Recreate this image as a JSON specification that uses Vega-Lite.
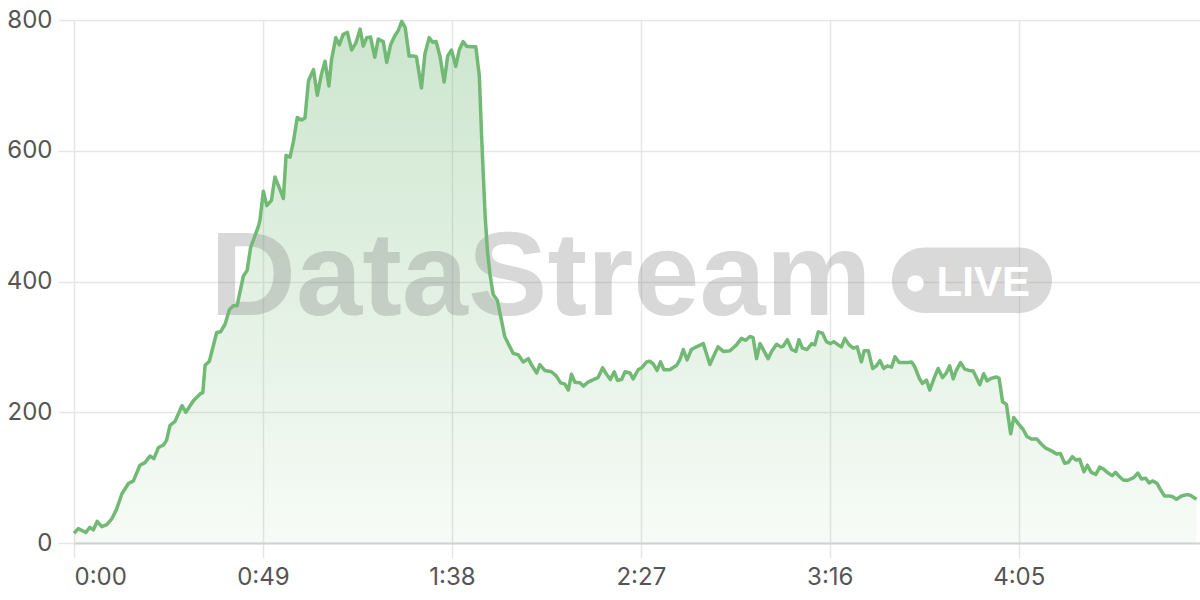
{
  "$schema": "https://vega.github.io/schema/vega-lite/v6.json",
  "width": 1126,
  "height": 523,
  "autosize": {"type": "none"},
  "padding": {"left": 74, "top": 20, "right": 0, "bottom": 57},
  "background": "white",
  "config": {"view": {"stroke": null}},
  "datasets": {
    "main": [
      {"t":0,"v":15},{"t":1.1,"v":22},{"t":3.1,"v":16},{"t":4.1,"v":24},{"t":5,"v":20},{"t":6,"v":33},{"t":7.2,"v":25},{"t":8.5,"v":28},{"t":9.8,"v":37},{"t":11,"v":51},{"t":12.4,"v":75},{"t":14.1,"v":91},{"t":15.4,"v":95},{"t":17.1,"v":119},{"t":18.4,"v":123},{"t":19.7,"v":133},{"t":20.7,"v":129},{"t":21.9,"v":146},{"t":23.2,"v":150},{"t":24,"v":157},{"t":24.9,"v":180},{"t":26.2,"v":186},{"t":28,"v":210},{"t":29,"v":200},{"t":31,"v":218},{"t":32.7,"v":228},{"t":33.4,"v":230},{"t":34,"v":272},{"t":35.1,"v":278},{"t":37,"v":322},{"t":38,"v":323},{"t":39.2,"v":335},{"t":40.3,"v":357},{"t":41.3,"v":363},{"t":42.3,"v":363},{"t":43.9,"v":408},{"t":44.9,"v":417},
      {"t":45.8,"v":452},{"t":47.8,"v":484},{"t":48.2,"v":493},{"t":49.1,"v":538},{"t":50,"v":516},{"t":51.2,"v":524},{"t":52.1,"v":560},{"t":53.4,"v":541},{"t":54.3,"v":527},{"t":55,"v":593},{"t":56,"v":590},{"t":56.9,"v":614},{"t":57.9,"v":651},{"t":59,"v":647},{"t":59.9,"v":650},{"t":60.8,"v":707},{"t":62.1,"v":724},{"t":63.1,"v":685},{"t":64.2,"v":718},{"t":65.1,"v":737},{"t":66.1,"v":699},{"t":66.8,"v":740},{"t":67.9,"v":773},{"t":68.8,"v":762},{"t":69.8,"v":778},{"t":70.9,"v":781},{"t":72,"v":754},{"t":73.1,"v":765},{"t":74.2,"v":786},{"t":75,"v":760},{"t":75.9,"v":773},{"t":76.9,"v":774},{"t":78,"v":743},{"t":78.9,"v":771},{"t":80.2,"v":767},{"t":81.1,"v":735},{"t":82.1,"v":762},{"t":83.2,"v":776},{"t":84.1,"v":784},{"t":85,"v":798},{"t":85.9,"v":788},{"t":86.9,"v":745},{"t":88,"v":745},{"t":88.8,"v":744},{"t":90.1,"v":696},{"t":91,"v":748},{"t":92.1,"v":773},{"t":93,"v":766},{"t":93.9,"v":767},{"t":94.9,"v":745},{"t":96,"v":705},{"t":96.9,"v":745},{"t":97.9,"v":754},{"t":99,"v":729},{"t":99.9,"v":754},{"t":100.9,"v":767},{"t":101.8,"v":760},{"t":103.1,"v":759},{"t":104.2,"v":759},{"t":105.1,"v":715},{"t":105.7,"v":623},{"t":106.6,"v":502},{"t":107.2,"v":448},{"t":107.9,"v":410},{"t":108.7,"v":380},{"t":109.8,"v":371},
      {"t":111.7,"v":316},{"t":112.6,"v":305},{"t":113.9,"v":290},{"t":115.2,"v":288},{"t":116.5,"v":277},{"t":117.8,"v":282},{"t":118.7,"v":272},{"t":120,"v":260},{"t":120.8,"v":273},{"t":122.1,"v":264},{"t":123.8,"v":262},{"t":125,"v":256},{"t":126.2,"v":245},{"t":127.3,"v":243},{"t":128.2,"v":234},{"t":129,"v":258},{"t":129.9,"v":246},{"t":131.2,"v":245},{"t":132.1,"v":240},{"t":133.3,"v":246},{"t":135.1,"v":251},{"t":135.9,"v":253},{"t":137.1,"v":268},{"t":138.1,"v":258},{"t":139.1,"v":250},{"t":140.1,"v":262},{"t":140.9,"v":249},{"t":142,"v":250},{"t":142.9,"v":262},{"t":144.2,"v":260},{"t":145,"v":251},{"t":146.3,"v":265},{"t":147.2,"v":268},{"t":148.5,"v":277},{"t":149.3,"v":278},{"t":150.2,"v":274},{"t":151.2,"v":264},{"t":152.1,"v":277},{"t":153,"v":265},{"t":154.5,"v":265},{"t":156.3,"v":272},{"t":157.1,"v":280},{"t":158,"v":296},{"t":159,"v":280},{"t":160.1,"v":296},{"t":161.4,"v":300},
      {"t":163.2,"v":305},{"t":164.9,"v":273},{"t":165.8,"v":285},{"t":167,"v":300},{"t":168.4,"v":293},{"t":170.1,"v":294},{"t":171.8,"v":303},{"t":173.1,"v":313},{"t":174.2,"v":310},{"t":175.3,"v":316},{"t":176.1,"v":314},{"t":177,"v":282},{"t":177.9,"v":305},{"t":180,"v":282},{"t":180.9,"v":293},{"t":182.2,"v":304},{"t":183.3,"v":300},{"t":183.9,"v":301},{"t":185,"v":311},{"t":186.1,"v":296},{"t":187.2,"v":293},{"t":188,"v":311},{"t":188.9,"v":298},{"t":190.1,"v":296},{"t":191.3,"v":305},{"t":192.1,"v":303},{"t":193,"v":323},{"t":194.1,"v":321},{"t":195.1,"v":308},{"t":196.2,"v":305},{"t":197,"v":308},{"t":198.2,"v":303},{"t":199,"v":300},{"t":199.9,"v":313},{"t":201,"v":303},{"t":202.1,"v":298},{"t":203.1,"v":300},{"t":204.2,"v":277},{"t":204.9,"v":294},{"t":206,"v":294},{"t":207.1,"v":267},{"t":208.1,"v":271},{"t":209,"v":279},{"t":210,"v":267},{"t":210.9,"v":271},{"t":212,"v":269},{"t":212.9,"v":285},{"t":214,"v":276},{"t":215.2,"v":276},{"t":216.3,"v":276},{"t":217.2,"v":277},{"t":218,"v":270},{"t":219.2,"v":252},{"t":220,"v":244},{"t":221.1,"v":249},{"t":221.9,"v":234},{"t":223.1,"v":253},{"t":224.1,"v":267},{"t":225.2,"v":253},{"t":226.1,"v":259},{"t":227.1,"v":271},{"t":228,"v":251},{"t":228.8,"v":264},{"t":229.9,"v":276},{"t":231,"v":266},{"t":232.1,"v":264},{"t":233.2,"v":263},{"t":234.9,"v":242},{"t":235.9,"v":259},{"t":236.8,"v":248},{"t":237.9,"v":252},{"t":239.2,"v":254},{"t":239.9,"v":252},
      {"t":240.8,"v":216},{"t":241.8,"v":212},{"t":242.9,"v":167},{"t":243.7,"v":192},{"t":244.8,"v":183},{"t":246.1,"v":174},{"t":247.1,"v":163},{"t":248.3,"v":159},{"t":249.7,"v":159},{"t":250.9,"v":151},{"t":252,"v":145},{"t":253.5,"v":141},{"t":254.8,"v":136},{"t":255.8,"v":137},{"t":256.9,"v":122},{"t":257.8,"v":123},{"t":258.9,"v":132},{"t":259.8,"v":127},{"t":260.8,"v":128},{"t":261.9,"v":109},{"t":262.8,"v":119},{"t":263.8,"v":108},{"t":265,"v":105},{"t":266,"v":116},{"t":267,"v":113},{"t":268.2,"v":107},{"t":269.2,"v":103},{"t":270.1,"v":108},{"t":271.2,"v":101},{"t":272.2,"v":96},{"t":273.3,"v":96},{"t":274.8,"v":100},{"t":275.9,"v":107},{"t":276.8,"v":98},{"t":277.9,"v":99},{"t":278.8,"v":92},{"t":279.8,"v":95},{"t":280.9,"v":91},{"t":281.7,"v":82},{"t":282.8,"v":72},{"t":284,"v":72},{"t":284.8,"v":71},{"t":285.9,"v":67},{"t":287.2,"v":72},{"t":288.6,"v":74},{"t":289.5,"v":73},{"t":291.1,"v":67}
    ]
  },
  "layer": [
    {
      "data": {"name": "main"},
      "mark": {
        "type": "area",
        "color": {
          "gradient": "linear",
          "x1": 0, "y1": 0, "x2": 0, "y2": 1,
          "stops": [
            {"offset": 0, "color": "rgba(114,185,117,0.36)"},
            {"offset": 1, "color": "rgba(114,185,117,0.06)"}
          ]
        }
      },
      "encoding": {
        "x": {
          "field": "t", "type": "quantitative",
          "scale": {"domain": [0, 292], "nice": false, "zero": false},
          "axis": {
            "title": null,
            "values": [0, 49, 98, 147, 196, 245],
            "labelExpr": "floor(datum.value/60) + ':' + (datum.value % 60 < 10 ? '0' : '') + (datum.value % 60)",
            "grid": true, "gridColor": "#e6e6e6", "gridWidth": 1.5,
            "tickColor": "#e6e6e6", "tickSize": 15, "tickWidth": 1.5,
            "domainColor": "#d2d2d2", "domainWidth": 2,
            "labelFont": "Inter", "labelFontSize": 24, "labelColor": "#555555", "labelPadding": 7
          }
        },
        "y": {
          "field": "v", "type": "quantitative",
          "scale": {"domain": [0, 800], "nice": false},
          "axis": {
            "title": null,
            "values": [0, 200, 400, 600, 800],
            "grid": true, "gridColor": "#e6e6e6", "gridWidth": 1.5,
            "tickColor": "#e6e6e6", "tickSize": 16, "tickWidth": 1.5,
            "domain": false,
            "labelFont": "Inter", "labelFontSize": 24, "labelColor": "#555555", "labelPadding": 6
          }
        }
      }
    },
    {
      "data": {"values": [{"label": "DataStream"}]},
      "mark": {"type": "text", "font": "Liberation Sans", "fontWeight": "bold", "fontSize": 119, "align": "left", "baseline": "alphabetic", "fill": "#808080", "opacity": 0.3},
      "encoding": {
        "x": {"datum": 35.3, "type": "quantitative"},
        "y": {"datum": 349, "type": "quantitative"},
        "text": {"field": "label"}
      }
    },
    {
      "data": {"values": [{"label": "LIVE"}]},
      "mark": {"type": "rect", "cornerRadius": 33, "fill": "#808080", "opacity": 0.3},
      "encoding": {
        "x": {"datum": 212.1, "type": "quantitative"},
        "x2": {"datum": 253.6},
        "y": {"datum": 452, "type": "quantitative"},
        "y2": {"datum": 352}
      }
    },
    {
      "data": {"values": [{"label": "LIVE"}]},
      "mark": {"type": "point", "shape": "circle", "filled": true, "size": 275, "color": "white", "opacity": 1},
      "encoding": {
        "x": {"datum": 218.2, "type": "quantitative"},
        "y": {"datum": 397, "type": "quantitative"}
      }
    },
    {
      "data": {"values": [{"label": "LIVE"}]},
      "mark": {"type": "text", "font": "Liberation Sans", "fontWeight": "bold", "fontSize": 42, "align": "center", "baseline": "alphabetic", "fill": "white"},
      "encoding": {
        "x": {"datum": 235.8, "type": "quantitative"},
        "y": {"datum": 377.5, "type": "quantitative"},
        "text": {"field": "label"}
      }
    },
    {
      "data": {"name": "main"},
      "mark": {"type": "line", "color": "#72b975", "strokeWidth": 3.5, "strokeJoin": "round"},
      "encoding": {
        "x": {"field": "t", "type": "quantitative"},
        "y": {"field": "v", "type": "quantitative"}
      }
    }
  ]
}
